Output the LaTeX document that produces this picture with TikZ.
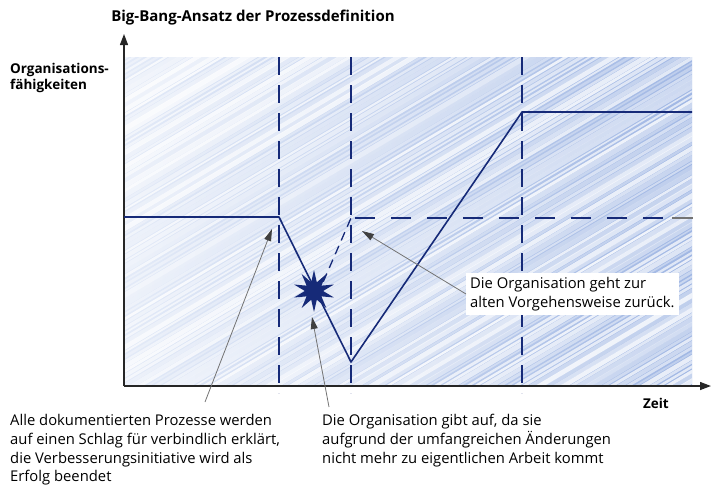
\documentclass[tikz,border=0pt]{standalone}
\usepackage{fontspec}
\setmainfont{Open Sans}
\usetikzlibrary{positioning, arrows.meta, shapes.geometric}
\definecolor{tinte}{RGB}{22,42,120}
\definecolor{zeigergrau}{RGB}{115,115,115}
\definecolor{schraffhell}{RGB}{228,235,248}
\definecolor{schraffdunkel}{RGB}{160,183,228}

\begin{document}
\begin{tikzpicture}[
  x=1pt, y=-1pt,
  achse/.style={-{Triangle[length=11pt,width=8pt]}, line width=1.3pt, black!85},
  kurve/.style={tinte, line width=1.6pt, line join=round},
  strich/.style={tinte, line width=1.3pt, dash pattern=on 18pt off 10pt},
  zeiger/.style={-{Triangle[length=12pt,width=7pt,color=black!75]}, zeigergrau, line width=0.8pt},
  beschriftung/.style={font=\bfseries\fontsize{13.5}{16}\selectfont, align=left, inner sep=0pt},
  notiz/.style={font=\fontsize{14.8}{18.8}\selectfont, align=left, inner sep=0pt}
]
  \useasboundingbox (0,0) rectangle (712,488);

  % schraffierte Flaeche
  \begin{scope}
    \clip (124,57) rectangle (692,386);
    \shade[left color=schraffhell, right color=schraffdunkel] (124,57) rectangle (692,386);
    \pgfmathsetseed{7}
    \foreach \i in {0,8,...,1200} {
      \pgfmathsetmacro{\op}{0.3+0.55*rnd}
      \pgfmathsetmacro{\lw}{1.5+3.5*rnd}
      \draw[white, opacity=\op, line width=\lw pt] (\i-500,400) -- ++(640,-380);
    }
  \end{scope}

  % Achsen
  \coordinate (ursprung) at (124,386);
  \coordinate (yende) at (124,34);
  \coordinate (xende) at (711,386);
  \draw[achse] (ursprung) -- (yende);
  \draw[achse] (ursprung) -- (xende);

  % Phasengrenzen
  \foreach \x/\n in {279/a, 351/b, 522/c} {
    \coordinate (oben\n) at (\x,57);
    \coordinate (unten\n) at (\x,393);
    \draw[strich] (oben\n) -- (unten\n);
  }

  % Verlauf
  \coordinate (k0) at (124,217);
  \coordinate (k1) at (279,217);
  \coordinate (k2) at (351,362);
  \coordinate (k3) at (522,112);
  \coordinate (k4) at (692,112);
  \draw[kurve] (k0) -- (k1) -- (k2) -- (k3) -- (k4);

  \node[star, star points=10, star point ratio=2.3, fill=tinte, minimum size=42pt, inner sep=0pt] (knall) at (314,291) {};

  \coordinate (r1) at (351,218);
  \coordinate (r2) at (672,218);
  \coordinate (r3) at (693,218);
  \draw[strich, dash pattern=on 9pt off 6pt] (knall.north east) -- (r1);
  \draw[strich, dash pattern=on 20pt off 16pt, dash phase=-4pt] (r1) -- (r2);
  \draw[zeigergrau, line width=1.3pt] (r2) -- (r3);

  % Texte
  \node[beschriftung, font=\bfseries\fontsize{15}{17}\selectfont, anchor=south] (titel) at (253,25) {Big-Bang-Ansatz der Prozessdefinition};
  \node[beschriftung, anchor=north west] (ytext) at (10,63) {Organisations-\\fähigkeiten};
  \node[beschriftung, anchor=north east] (xtext) at (669,398) {Zeit};

  \node[notiz, anchor=north west] (notiz1) at (10,414)
    {Alle dokumentierten Prozesse werden\\auf einen Schlag für verbindlich erklärt,\\die Verbesserungsinitiative wird als\\Erfolg beendet};
  \node[notiz, anchor=north west] (notiz2) at (322,414)
    {Die Organisation gibt auf, da sie\\aufgrund der umfangreichen Änderungen\\nicht mehr zu eigentlichen Arbeit kommt};
  \node[notiz, fill=white, inner sep=4pt, anchor=west] (notiz3) at (466,294)
    {Die Organisation geht zur\\alten Vorgehensweise zurück.};

  % Zeiger
  \coordinate (fuss1) at (205,402);
  \coordinate (fuss2) at (329,407);
  \coordinate (ziel1) at (272,229);
  \coordinate (ziel2) at (312,317);
  \coordinate (ziel3) at (362,231);
  \draw[zeiger] (fuss1) -- (ziel1);
  \draw[zeiger] (fuss2) -- (ziel2);
  \draw[zeiger] (notiz3.west) -- (ziel3);
\end{tikzpicture}
\end{document}
